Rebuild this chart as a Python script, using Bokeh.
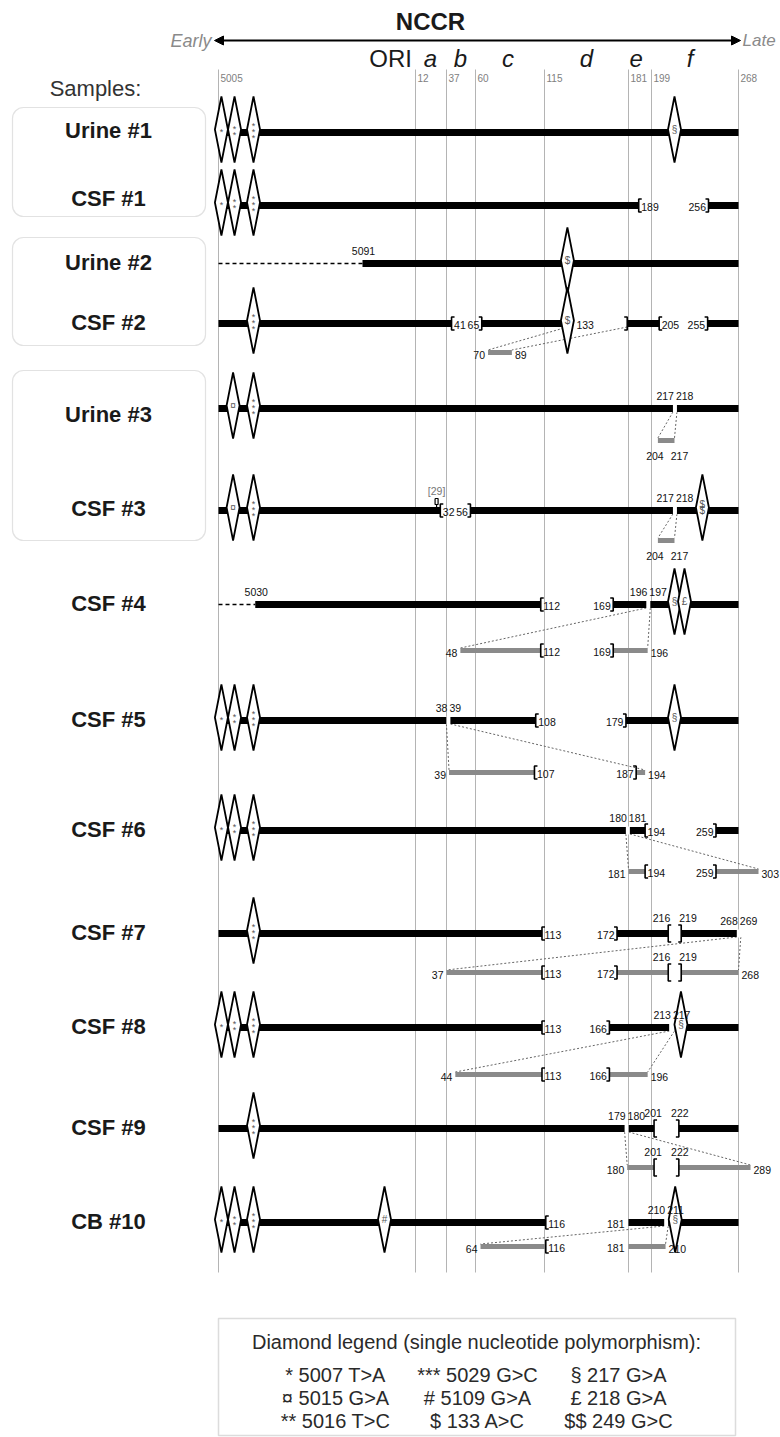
import numpy as np
from bokeh.plotting import figure
from bokeh.models import ColumnDataSource, Range1d, BoxAnnotation, Arrow, NormalHead
from bokeh.core.properties import value
from bokeh.embed import file_html
from bokeh.resources import INLINE

# ---------------- data ----------------
GENOME_LENGTH = 5153
SAMPLES = ["Urine #1", "CSF #1", "Urine #2", "CSF #2", "Urine #3", "CSF #3",
           "CSF #4", "CSF #5", "CSF #6", "CSF #7", "CSF #8", "CSF #9", "CB #10"]
SAMPLE_BOXES = [(0, 1), (2, 3), (4, 5)]

TICKS = [5005, 12, 37, 60, 115, 181, 199, 268]
REGIONS = ["ORI", "a", "b", "c", "d", "e", "f"]
REGION_CENTERS = [5120, 24, 48, 86, 148, 187, 235]

DASHED_LEADS = [None, None, (5005, 5091), None, None, None, (5005, 5030),
                None, None, None, None, None, None]

BLACK_SEGMENTS = [
    [(5005, 268)],
    [(5005, 189), (256, 268)],
    [(5091, 268)],
    [(5005, 41), (65, 133), (180, 205), (255, 268)],
    [(5005, 217), (218, 268)],
    [(5005, 32), (56, 217), (218, 268)],
    [(5030, 112), (169, 196), (197, 268)],
    [(5005, 38), (39, 108), (179, 268)],
    [(5005, 180), (181, 194), (259, 268)],
    [(5005, 113), (172, 216), (219, 268)],
    [(5005, 113), (166, 213), (217, 268)],
    [(5005, 179), (180, 201), (222, 268)],
    [(5005, 116), (181, 210), (211, 268)],
]

# (start, end, left mark, right mark): b = bracket, l = label, a = label above
DELETIONS = [
    [],
    [(189, 256, "bl", "bl")],
    [],
    [(41, 65, "bl", "bl"), (133, 180, "l", "b"), (205, 255, "bl", "bl")],
    [],
    [(32, 56, "bl", "bl")],
    [(112, 169, "bl", "bl")],
    [(108, 179, "bl", "bl")],
    [(194, 259, "bl", "bl")],
    [(113, 172, "bl", "bl"), (216, 219, "ba", "ba")],
    [(113, 166, "bl", "bl")],
    [(201, 222, "ba", "ba")],
    [(116, 181, "bl", "l")],
]

POINT_DELETIONS = [None, None, None, None, None, 29, None, None, None, None, None, None, None]

# insertion junction (left, right, labelled)
JUNCTIONS = [None, None, None, (133, 180, False), (217, 218, True), (217, 218, True),
             (196, 197, True), (38, 39, True), (180, 181, True), (268, 269, True),
             (213, 217, True), (179, 180, True), (210, 211, True)]

INSERT_SEGMENTS = [
    None, None, None,
    [(70, 89)],
    [(204, 217)],
    [(204, 217)],
    [(48, 112), (169, 196)],
    [(39, 107), (187, 194)],
    [(181, 194), (259, 303)],
    [(37, 113), (172, 216), (219, 268)],
    [(44, 113), (166, 196)],
    [(180, 201), (222, 289)],
    [(64, 116), (181, 210)],
]
INSERT_DELETIONS = [
    [], [], [], [], [], [],
    [(112, 169, "bl", "bl")],
    [(107, 187, "bl", "bl")],
    [(194, 259, "bl", "bl")],
    [(113, 172, "bl", "bl"), (216, 219, "ba", "ba")],
    [(113, 166, "bl", "bl")],
    [(201, 222, "ba", "ba")],
    [(116, 181, "bl", "l")],
]
INSERT_LABEL_MODE = [None, None, None, "side", "below", "below", "side", "side",
                     "side", "side", "side", "side", "side"]

DIAMONDS = [
    [(5007, "*"), (5016, "**"), (5029, "***"), (217, "§")],
    [(5007, "*"), (5016, "**"), (5029, "***")],
    [(133, "$")],
    [(5029, "***"), (133, "$")],
    [(5015, "¤"), (5029, "***")],
    [(5015, "¤"), (5029, "***"), (249, "$$")],
    [(217, "§"), (218, "£")],
    [(5007, "*"), (5016, "**"), (5029, "***"), (217, "§")],
    [(5007, "*"), (5016, "**"), (5029, "***")],
    [(5029, "***")],
    [(5007, "*"), (5016, "**"), (5029, "***"), (217, "§")],
    [(5029, "***")],
    [(5007, "*"), (5016, "**"), (5029, "***"), (5109, "#"), (217, "§")],
]

LEGEND_TITLE = "Diamond legend (single nucleotide polymorphism):"
LEGEND_COLUMNS = [
    ["* 5007 T>A", "¤ 5015 G>A", "** 5016 T>C"],
    ["*** 5029 G>C", "# 5109 G>A", "$ 133 A>C"],
    ["§ 217 G>A", "£ 218 G>A", "$$ 249 G>C"],
]

# ---------------- layout ----------------
SCALE_NT = [5005, 5029, 5091, 5109, 12, 37, 60, 115, 181, 199, 217, 256, 268, 303]
SCALE_X = [218, 253, 362, 384, 415, 446, 475, 544, 628, 651, 674, 708, 738, 758]
ROW_Y = [132, 205, 263, 323, 408, 510, 604, 720, 830, 933, 1027, 1128, 1222]
LABEL_Y = [130, 198, 262, 322, 414, 508, 603, 719, 829, 932, 1026, 1127, 1221]
GREY_Y = [None, None, None, 352, 440, 540, 650, 772, 871, 972, 1074, 1167, 1246]
BOX_BOUNDS = [(107, 216), (237, 345), (370, 540)]
GRID_TOP, GRID_BOTTOM = 69, 1272
BAR_H, GREY_H = 7, 5
D_HALF_W, D_HALF_H = 6.5, 33

SANS = "Liberation Sans"
NUM_SIZE = "10.5px"


def u(p):
    return p - GENOME_LENGTH if p > GENOME_LENGTH / 2 else p


SCALE_U = [u(p) for p in SCALE_NT]


def X(p):
    return float(np.interp(u(p), SCALE_U, SCALE_X))


TEXT = {}


def txt(x, y, s, font=SANS, size=NUM_SIZE, color="#111111", align="center",
        baseline="middle", style="normal"):
    key = (font, size, color, align, baseline, style)
    d = TEXT.setdefault(key, dict(x=[], y=[], t=[]))
    d["x"].append(x)
    d["y"].append(y)
    d["t"].append(s)


black = dict(l=[], r=[], t=[], b=[])
grey = dict(l=[], r=[], t=[], b=[])
white = dict(l=[], r=[], t=[], b=[])
brk = dict(xs=[], ys=[])
dotted = dict(xs=[], ys=[])
dashed = dict(xs=[], ys=[])
diam = dict(xs=[], ys=[])
small = dict(xs=[], ys=[])


def quad(store, x0, x1, yc, h):
    store["l"].append(x0)
    store["r"].append(x1)
    store["t"].append(yc - h / 2)
    store["b"].append(yc + h / 2)


def bracket(x, y, side, h):
    brk["xs"].append([x + 3 * side, x, x, x + 3 * side])
    brk["ys"].append([y - h, y - h, y + h, y + h])


def deletion(a, b, ls, rs, y, bar_h):
    xa, xb = X(a), X(b)
    above = ls.endswith("a") or rs.endswith("a")
    h = 8.5 if above else 6.5
    if above:
        if xb - xa < 13:
            c = (xa + xb) / 2
            xa, xb = c - 6.5, c + 6.5
        quad(white, xa, xb, y, bar_h + 1)
    if "b" in ls:
        bracket(xa, y, +1, h)
    if "b" in rs:
        bracket(xb, y, -1, h)
    wide = (xb - xa) >= 20
    if ls == "bl":
        txt(xa + 2.5, y + 1, str(a), align="left")
    elif ls == "l":
        txt(xa + 9, y + 1, str(a), align="left")
    elif ls == "ba":
        if wide:
            txt(xa - 1, y - h - 7, str(a))
        else:
            txt(xa + 2, y - h - 7, str(a), align="right")
    if rs == "bl":
        txt(xb - 2.5, y + 1, str(b), align="right")
    elif rs == "l":
        txt(xb - 4, y + 1, str(b), align="right")
    elif rs == "ba":
        if wide:
            txt(xb + 1, y - h - 7, str(b))
        else:
            txt(xb - 2, y - h - 7, str(b), align="left")


for i, name in enumerate(SAMPLES):
    y = ROW_Y[i]
    txt(108, LABEL_Y[i], name, size="22px", color="#1a1a1a", style="bold")

    if DASHED_LEADS[i]:
        a, b = DASHED_LEADS[i]
        dashed["xs"].append([X(a), X(b)])
        dashed["ys"].append([y, y])
        txt(X(b) + 1, y - 13, str(b))

    for a, b in BLACK_SEGMENTS[i]:
        quad(black, X(a), X(b), y, BAR_H)

    for a, b, ls, rs in DELETIONS[i]:
        deletion(a, b, ls, rs, y, BAR_H)

    if POINT_DELETIONS[i] is not None:
        px = X(POINT_DELETIONS[i])
        small["xs"].append([px - 1.5, px + 1.5, px + 1.5, px, px, px, px - 1.5, px - 1.5])
        small["ys"].append([y - 12, y - 12, y - 6, y - 6, y - 3.5, y - 6, y - 6, y - 12])
        txt(px, y - 20, "[%d]" % POINT_DELETIONS[i], size="10.5px", color="#777777")

    j = JUNCTIONS[i]
    jc = None
    if j:
        a, b, labelled = j
        xa, xb = X(a), X(b)
        if labelled:
            c = (xa + xb) / 2
            jc = c
            xa, xb = min(xa, c - 2), max(xb, c + 2)
            quad(white, xa, xb, y, BAR_H + 1)
            txt(c - 1, y - 13, str(a), align="right")
            txt(c + 1, y - 13, str(b), align="left")
        gy = GREY_Y[i]
        segs = INSERT_SEGMENTS[i]
        for s0, s1 in segs:
            quad(grey, X(s0), X(s1), gy, GREY_H)
        for a2, b2, ls, rs in INSERT_DELETIONS[i]:
            deletion(a2, b2, ls, rs, gy, GREY_H)
        first, last = segs[0][0], segs[-1][1]
        if INSERT_LABEL_MODE[i] == "below":
            txt(X(first) - 3, gy + 15, str(first))
            txt(X(last) + 5, gy + 15, str(last))
        else:
            txt(X(first) - 3, gy + 2, str(first), align="right")
            txt(X(last) + 3, gy + 2, str(last), align="left")
        dotted["xs"].append([xa, X(first)])
        dotted["ys"].append([y + BAR_H / 2, gy - GREY_H / 2])
        dotted["xs"].append([xb, X(last)])
        dotted["ys"].append([y + BAR_H / 2, gy - GREY_H / 2])

    prev = -1e9
    for pos, sym in sorted(DIAMONDS[i], key=lambda d: X(d[0])):
        cx = max(X(pos), prev + 10)
        if jc is not None and X(pos) >= jc and cx - jc < 9:
            cx = jc + 9
        prev = cx
        cy = y - 3
        diam["xs"].append([cx, cx + D_HALF_W, cx, cx - D_HALF_W])
        diam["ys"].append([cy - D_HALF_H, cy, cy + D_HALF_H, cy])
        n = len(sym)
        for k, ch in enumerate(sym):
            dy = (k - (n - 1) / 2) * 6
            off = 2.5 if ch == "*" else 0
            txt(cx, cy + dy + off, ch, size="9px" if ch == "*" else "10px", color="#555555")

# ---------------- figure ----------------
p = figure(width=780, height=1437, x_range=Range1d(0, 780), y_range=Range1d(1437, 0),
           x_axis_type=None, y_axis_type=None, toolbar_location=None,
           output_backend="svg", min_border=0)
p.outline_line_color = None
p.background_fill_color = "white"
p.border_fill_color = "white"

# grid of NCCR ticks
p.segment(x0=[X(t) for t in TICKS], x1=[X(t) for t in TICKS],
          y0=[GRID_TOP] * len(TICKS), y1=[GRID_BOTTOM] * len(TICKS),
          line_color="#b4b4b4", line_width=1)
for t in TICKS:
    txt(X(t) + 2, 77, str(t), size="10px", color="#808080", align="left")

# header
txt(430, 21, "NCCR", size="24px", color="#1a1a1a", style="bold")
txt(211, 40, "Early", size="18px", color="#8a8a8a", align="right", style="italic")
txt(742, 40, "Late", size="17px", color="#8a8a8a", align="left", style="italic")
for r, c in zip(REGIONS, REGION_CENTERS):
    txt(X(c), 58, r, size="24px", color="#1a1a1a",
        style="normal" if r == "ORI" else "italic")
p.add_layout(Arrow(start=NormalHead(size=9, fill_color="black", line_color="black"),
                   end=NormalHead(size=9, fill_color="black", line_color="black"),
                   x_start=214, y_start=40, x_end=740, y_end=40,
                   line_width=2, line_color="black"))

txt(95, 88, "Samples:", size="22px", color="#333333")
for (a, b), (top, bot) in zip(SAMPLE_BOXES, BOX_BOUNDS):
    p.add_layout(BoxAnnotation(left=12, right=205, top=top, bottom=bot,
                               fill_color=None, line_color="#a0a0a0", line_width=1.2,
                               border_radius=11, level="underlay"))

# connectors and leads
p.multi_line(xs="xs", ys="ys", source=ColumnDataSource(dotted),
             line_color="#666666", line_width=1, line_dash="2 2")
p.multi_line(xs="xs", ys="ys", source=ColumnDataSource(dashed),
             line_color="black", line_width=1.6, line_dash="4 3")

# bars
p.quad(left="l", right="r", top="t", bottom="b", source=ColumnDataSource(black),
       fill_color="black", line_color=None)
p.quad(left="l", right="r", top="t", bottom="b", source=ColumnDataSource(grey),
       fill_color="#8a8a8a", line_color=None)
p.quad(left="l", right="r", top="t", bottom="b", source=ColumnDataSource(white),
       fill_color="white", line_color=None)
p.multi_line(xs="xs", ys="ys", source=ColumnDataSource(brk),
             line_color="black", line_width=1.6)
p.multi_line(xs="xs", ys="ys", source=ColumnDataSource(small),
             line_color="black", line_width=1.2)

# diamonds
p.patches(xs="xs", ys="ys", source=ColumnDataSource(diam),
          fill_color="white", line_color="black", line_width=1.8)

# legend
p.add_layout(BoxAnnotation(left=218, right=735, top=1318, bottom=1435,
                           fill_color=None, line_color="#8a8a8a", line_width=1.5))
txt(476, 1341, LEGEND_TITLE, size="20px", color="#2a2a2a")
for cx, col in zip([335, 477, 618], LEGEND_COLUMNS):
    for k, item in enumerate(col):
        txt(cx, 1374 + 23 * k, item, size="20px", color="#2a2a2a")

for (font, size, color, align, baseline, style), d in TEXT.items():
    p.text(x="x", y="y", text="t", source=ColumnDataSource(d),
           text_font=value(font), text_font_size=size, text_color=color,
           text_align=align, text_baseline=baseline, text_font_style=style)

open("out.html", "w").write(file_html(p, INLINE))
